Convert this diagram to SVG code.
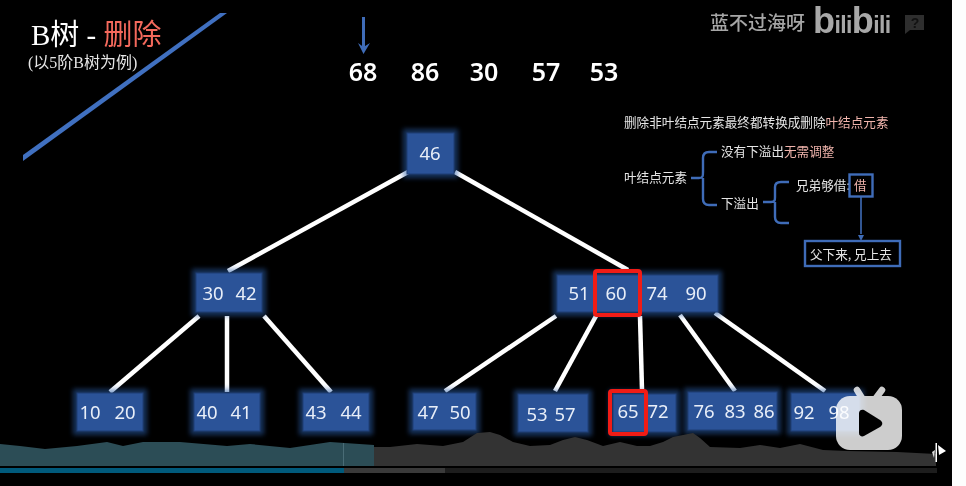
<svg xmlns="http://www.w3.org/2000/svg" width="966" height="486" viewBox="0 0 966 486">
<defs>
<filter id="glow" x="-20%" y="-30%" width="140%" height="160%"><feGaussianBlur stdDeviation="2.5"/></filter>
</defs>
<style>
text{font-family:"Noto Sans","Noto Sans CJK SC",sans-serif}
.num{font-size:18.500px;fill:#e8eef8}
.q{font-size:25px;font-weight:600;fill:#fff}
.cn{font-size:12.600px;fill:#e6e6e6;font-family:"Noto Sans CJK SC",sans-serif}
.pk{fill:#f0b4ac}
.box{fill:#2b5398;stroke:#1f3f75;stroke-width:1}
.halo{fill:#2b5da8;opacity:.55;filter:url(#glow)}
.edge{stroke:#fff;stroke-width:4.500;fill:none}
.br{stroke:#3f6cb8;stroke-width:2.400;fill:none}
.red{fill:none;stroke:#f01c16;stroke-width:4}
.bb{fill:none;stroke:#3f6cb8;stroke-width:2.400}
</style>
<rect width="966" height="486" fill="#fdfdfd"/>
<rect width="952" height="486" fill="#000"/>
<polygon points="23,155 220,13 227,13 23,161" fill="#4070c0"/>
<g id="title">
<text x="31" y="45" font-size="29" style="font-family:'Liberation Serif','Noto Sans CJK SC',serif" fill="#fff">B树 - <tspan fill="#f4695c" style="font-family:'Noto Sans CJK SC',sans-serif">删除</tspan></text>
<text x="28" y="68" font-size="16" style="font-family:'Liberation Serif','Noto Sans CJK SC',serif" fill="#e6e6e6">(以5阶B树为例)</text>
</g>
<g id="pointer">
<path d="M363.500 17V50" stroke="#3f6cb8" stroke-width="3" fill="none"/>
<path d="M358 43L363.500 54L370 43L363.500 47Z" fill="#3f6cb8"/>
</g>
<g id="queue">
<text class="q" x="363" y="81" text-anchor="middle">68</text>
<text class="q" x="425" y="81" text-anchor="middle">86</text>
<text class="q" x="484" y="81" text-anchor="middle">30</text>
<text class="q" x="546" y="81" text-anchor="middle">57</text>
<text class="q" x="604" y="81" text-anchor="middle">53</text>
</g>
<g id="watermark">
<text x="710" y="30" font-size="19" font-weight="500" fill="#a6a6a6" style="font-family:'Noto Sans CJK SC',sans-serif">蓝不过海呀</text>
<text x="813" y="33" font-weight="700" fill="#a8a8a8" letter-spacing="-0.6" style="font-family:'Liberation Sans',sans-serif"><tspan font-size="36">b</tspan><tspan font-size="23">ili</tspan><tspan font-size="36">b</tspan><tspan font-size="23">ili</tspan></text>
<path d="M905 15H924V30H910L905 34Z" fill="#2e2e2e"/>
<text x="915" y="28" font-size="14" font-weight="700" fill="#111" text-anchor="middle" style="font-family:'Liberation Sans',sans-serif">?</text>
</g>
<g id="notes">
<text class="cn" x="624" y="127">删除非叶结点元素最终都转换成删除<tspan class="pk">叶结点元素</tspan></text>
<text class="cn" x="721" y="156">没有下溢出<tspan class="pk">无需调整</tspan></text>
<text class="cn" x="624" y="182">叶结点元素</text>
<text class="cn" x="721" y="208">下溢出</text>
<text class="cn" x="796" y="190">兄弟够借:</text>
<text class="cn" x="854" y="190" style="fill:#f0b4ac">借</text>
<text class="cn" x="810" y="259">父下来, 兄上去</text>
<path class="br" d="M691 178H699C703 178 703 176 703 172V158C703 154 705 152 709 152H717M703 178V199C703 203 705 205 709 205H717"/>
<path class="br" d="M763 202H771C775 202 775 200 775 197V187C775 184 777 182 781 182H789M775 202V217C775 221 777 223 781 223H789"/>
<rect class="bb" x="849.500" y="174.500" width="23" height="22"/>
<rect class="bb" x="805" y="241" width="95" height="25"/>
<path d="M861 197V234" stroke="#3f6cb8" stroke-width="1.600"/>
<path d="M858 235H864L861 241Z" fill="#3f6cb8"/>
</g>
<g id="connectors">
<path class="edge" d="M408 172L228 271"/>
<path class="edge" d="M455 172L628 270"/>
<path class="edge" d="M199 316L110 392"/>
<path class="edge" d="M227 316V392"/>
<path class="edge" d="M264 316L331 392"/>
<path class="edge" d="M556 316L445 391"/>
<path class="edge" d="M596 316L555 391"/>
<path class="edge" d="M640 316L642 390"/>
<path class="edge" d="M680 315L735 391"/>
<path class="edge" d="M715 313L825 391"/>
</g>
<g id="node-46"><rect class="halo" x="403" y="129" width="55" height="49"/><rect class="box" x="407" y="133" width="47" height="41"/><text class="num" x="430" y="160" text-anchor="middle">46</text></g>
<g id="node-30-42"><rect class="halo" x="192" y="269" width="74" height="47"/><rect class="box" x="196" y="273" width="66" height="39"/><text class="num" x="213" y="300" text-anchor="middle">30</text><text class="num" x="246" y="300" text-anchor="middle">42</text></g>
<g id="node-51-60-74-90"><rect class="halo" x="553" y="271" width="169" height="45"/><rect class="box" x="557" y="275" width="161" height="37"/><text class="num" x="579" y="300" text-anchor="middle">51</text><text class="num" x="616" y="300" text-anchor="middle">60</text><text class="num" x="657" y="300" text-anchor="middle">74</text><text class="num" x="696" y="300" text-anchor="middle">90</text></g>
<g id="node-10-20"><rect class="halo" x="73" y="389" width="74" height="46"/><rect class="box" x="77" y="393" width="66" height="38"/><text class="num" x="90" y="419" text-anchor="middle">10</text><text class="num" x="125" y="419" text-anchor="middle">20</text></g>
<g id="node-40-41"><rect class="halo" x="190" y="389" width="74" height="46"/><rect class="box" x="194" y="393" width="66" height="38"/><text class="num" x="207" y="419" text-anchor="middle">40</text><text class="num" x="241" y="419" text-anchor="middle">41</text></g>
<g id="node-43-44"><rect class="halo" x="299" y="389" width="74" height="46"/><rect class="box" x="303" y="393" width="66" height="38"/><text class="num" x="316" y="419" text-anchor="middle">43</text><text class="num" x="351" y="419" text-anchor="middle">44</text></g>
<g id="node-47-50"><rect class="halo" x="409" y="389" width="71" height="45"/><rect class="box" x="413" y="393" width="63" height="37"/><text class="num" x="428" y="419" text-anchor="middle">47</text><text class="num" x="460" y="419" text-anchor="middle">50</text></g>
<g id="node-53-57"><rect class="halo" x="514" y="390" width="78" height="46"/><rect class="box" x="518" y="394" width="70" height="38"/><text class="num" x="537" y="421" text-anchor="middle">53</text><text class="num" x="565" y="421" text-anchor="middle">57</text></g>
<g id="node-65-72"><rect class="halo" x="609" y="390" width="71" height="46"/><rect class="box" x="613" y="394" width="63" height="38"/><text class="num" x="628" y="418" text-anchor="middle">65</text><text class="num" x="658" y="418" text-anchor="middle">72</text></g>
<g id="node-76-83-86"><rect class="halo" x="684" y="388" width="97" height="46"/><rect class="box" x="688" y="392" width="89" height="38"/><text class="num" x="704" y="418" text-anchor="middle">76</text><text class="num" x="735" y="418" text-anchor="middle">83</text><text class="num" x="764" y="418" text-anchor="middle">86</text></g>
<g id="node-92-98"><rect class="halo" x="787" y="389" width="77" height="46"/><rect class="box" x="791" y="393" width="69" height="38"/><text class="num" x="804" y="419" text-anchor="middle">92</text><text class="num" x="839" y="419" text-anchor="middle">98</text></g>
<rect class="red" x="595" y="271" width="45" height="44" rx="2"/>
<rect class="red" x="610" y="391" width="36" height="43" rx="2"/>
<g id="waveform">
<polygon fill="#2c4d56" points="0,466 0,444 20,446 45,449 77,446 107,442 123,446 143,442 180,442 227,446 250,444 290,448 330,442 374,445 374,466"/>
<polygon fill="#333" points="374,466 374,447 390,447 417,444 443,446 463,442 477,433 490,432 500,435 513,442 530,446 550,445 563,440 575,437 587,440 603,446 620,442 637,446 650,446 663,442 673,437 693,433 700,438 710,447 740,448 760,445 780,448 800,444 823,450 847,451 897,452 936,454 936,466"/>
<rect x="343" y="443" width="1" height="23" fill="#4a6c76"/>
<rect x="0" y="468" width="344" height="5" fill="#005a7c"/>
<rect x="344" y="468" width="101" height="5" fill="#3a3a3a"/>
<rect x="445" y="468" width="492" height="5" fill="#1d1d1d"/>
<rect x="935.500" y="443" width="1.500" height="19" fill="#fff"/>
<path d="M938 445L946 451L939 455Z" fill="#fff"/>
<path d="M932 452L935 450L934 458Z" fill="#ddd"/>
</g>
<g id="play-badge">
<g style="mix-blend-mode:screen">
<path d="M857 390L862 398M882 390L876 398" stroke="#cdcdcd" stroke-width="6.500" stroke-linecap="round"/>
<rect x="836" y="396" width="66" height="54" rx="14" fill="#cdcdcd"/>
</g>
<path d="M859 413C859 410 862 409 864 410L880 420C883 422 883 425 880 427L864 436C862 437 859 436 859 433Z" fill="#000"/>
</g>
</svg>
